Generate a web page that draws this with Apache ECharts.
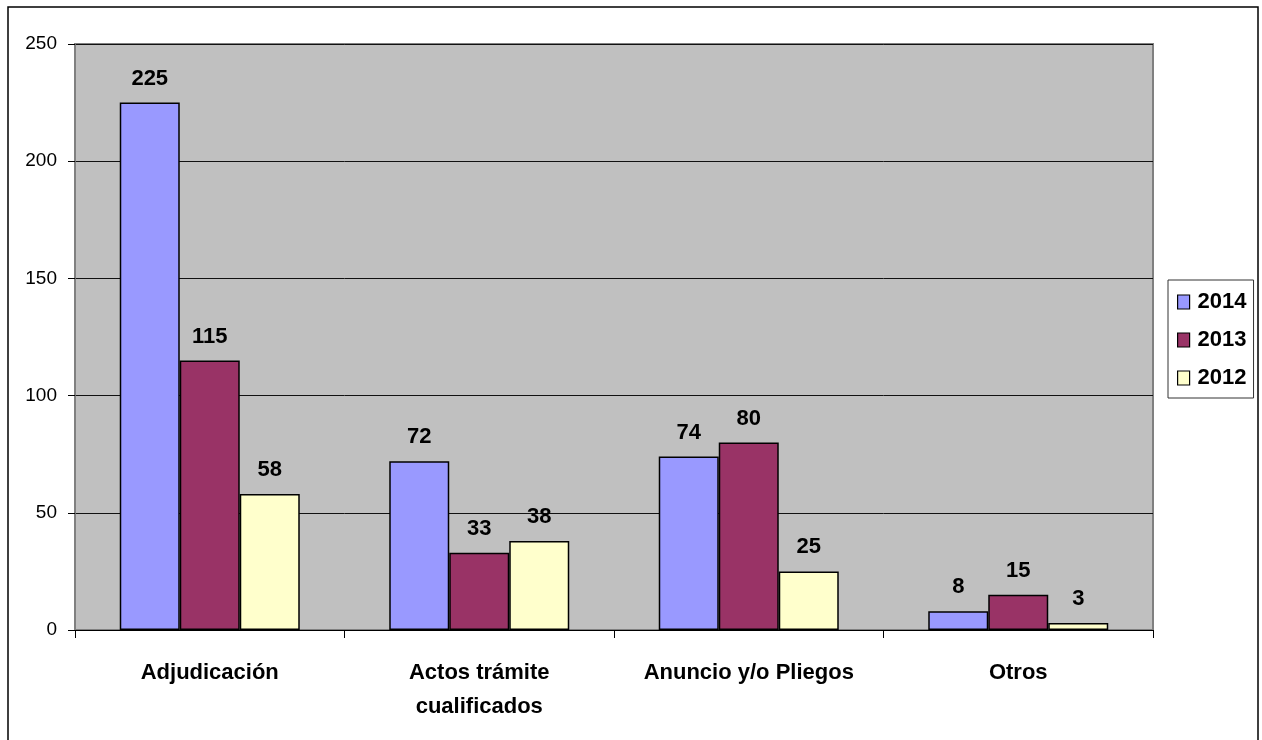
<!DOCTYPE html>
<html>
<head>
<meta charset="utf-8">
<script src="https://cdn.jsdelivr.net/npm/echarts@6/dist/echarts.min.js"></script>
<style>
  html, body { margin: 0; padding: 0; background: #fff; }
  #chart { width: 1262px; height: 740px; }
</style>
</head>
<body>
<div id="chart"></div>
<script>
// Recursos por tipo de acto impugnado, 2012-2014
const categories = ['Adjudicación', 'Actos trámite\ncualificados', 'Anuncio y/o Pliegos', 'Otros'];
const years = ['2014', '2013', '2012'];
const values2014 = [225, 72, 74, 8];
const values2013 = [115, 33, 80, 15];
const values2012 = [58, 38, 25, 3];
const yTicks = { min: 0, max: 250, interval: 50 };

const FONT = "'Liberation Sans', Arial, sans-serif";
const colors = ['#9999FF', '#993366', '#FFFFCC'];
const seriesValues = [values2014, values2013, values2012];

const chart = echarts.init(document.getElementById('chart'), null, { renderer: 'canvas' });

chart.setOption({
  animation: false,
  backgroundColor: '#ffffff',
  textStyle: { fontFamily: FONT },
  graphic: [{
    type: 'rect',
    shape: { x: 8, y: 7, width: 1250, height: 760 },
    style: { fill: 'none', stroke: '#000', lineWidth: 1.5 },
    z: -1
  }],
  grid: {
    left: 75, right: 109, top: 44, bottom: 110,
    show: true,
    backgroundColor: '#C0C0C0',
    borderColor: '#808080',
    borderWidth: 2
  },
  legend: {
    orient: 'vertical',
    left: 1168, top: 280,
    padding: [11, 7, 9, 9],
    itemGap: 16,
    itemWidth: 12, itemHeight: 14,
    icon: 'rect',
    backgroundColor: '#ffffff',
    borderColor: '#333',
    borderWidth: 1,
    data: years,
    textStyle: { fontFamily: FONT, fontSize: 22, fontWeight: 'bold', color: '#000', lineHeight: 22, padding: [0, 0, 0, 3] },
    itemStyle: { borderColor: '#000', borderWidth: 1.2 }
  },
  xAxis: {
    type: 'category',
    data: categories,
    axisLine: { lineStyle: { color: '#000', width: 1.2 } },
    axisTick: { show: true, length: 8, lineStyle: { color: '#000', width: 1 } },
    axisLabel: {
      interval: 0, margin: 26,
      fontFamily: FONT, fontSize: 22, fontWeight: 'bold', color: '#000', lineHeight: 34
    },
    splitLine: { show: false }
  },
  yAxis: {
    type: 'value',
    min: yTicks.min, max: yTicks.max, interval: yTicks.interval,
    axisLine: { show: true, lineStyle: { color: '#808080', width: 1.5 } },
    axisTick: { show: true, length: 7, lineStyle: { color: '#000', width: 1 } },
    axisLabel: { margin: 18, fontFamily: FONT, fontSize: 19, color: '#000' },
    splitLine: { show: true, lineStyle: { color: '#111', width: 1 } }
  },
  series: years.map((y, i) => ({
    name: y,
    type: 'bar',
    data: seriesValues[i],
    barWidth: 60,
    barGap: '0%',
    itemStyle: { color: colors[i], borderColor: '#000', borderWidth: 1.5 },
    label: {
      show: true, position: 'top', distance: 13,
      fontFamily: FONT, fontSize: 22, fontWeight: 'bold', color: '#000'
    }
  }))
});
</script>
</body>
</html>
